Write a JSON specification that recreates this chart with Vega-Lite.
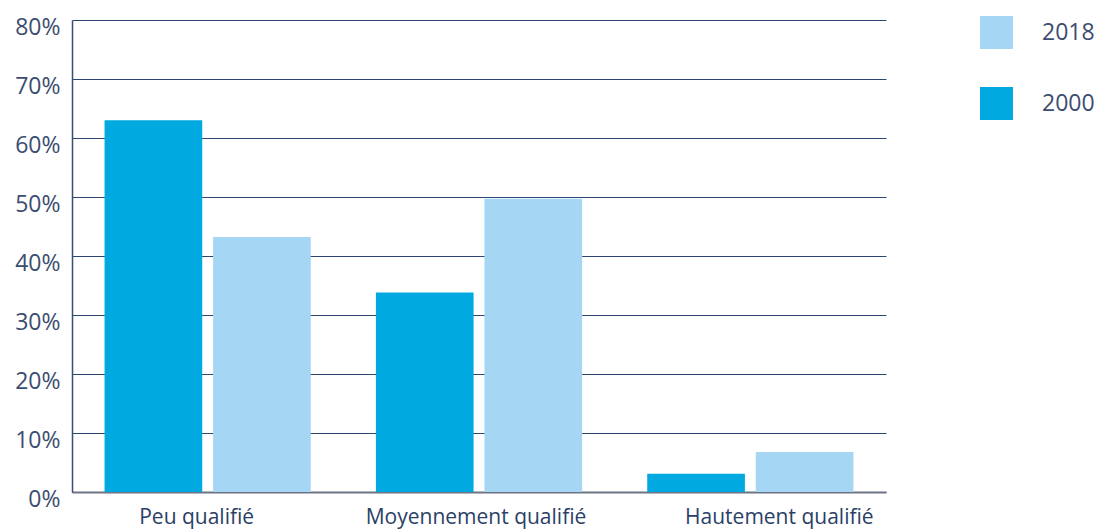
{
  "$schema": "https://vega.github.io/schema/vega-lite/v6.json",
  "width": 814,
  "height": 472,
  "autosize": {"type": "none"},
  "padding": {"left": 72, "top": 20, "right": 214, "bottom": 40},
  "background": "white",
  "data": {
    "values": [
      {"niveau": "Peu qualifié", "annee": "2000", "part": 0.63},
      {"niveau": "Peu qualifié", "annee": "2018", "part": 0.432},
      {"niveau": "Moyennement qualifié", "annee": "2000", "part": 0.338},
      {"niveau": "Moyennement qualifié", "annee": "2018", "part": 0.497},
      {"niveau": "Hautement qualifié", "annee": "2000", "part": 0.031},
      {"niveau": "Hautement qualifié", "annee": "2018", "part": 0.068}
    ]
  },
  "mark": {"type": "bar"},
  "encoding": {
    "x": {
      "field": "niveau",
      "type": "nominal",
      "sort": ["Peu qualifié", "Moyennement qualifié", "Hautement qualifié"],
      "scale": {"paddingInner": 0.24, "paddingOuter": 0.12},
      "axis": {
        "title": null,
        "labelAngle": 0,
        "labelLimit": 0,
        "labelFont": "Open Sans",
        "labelFontSize": 21,
        "labelColor": "#2b3f66",
        "labelPadding": 14,
        "labelOffset": {
          "condition": [
            {"test": "datum.value === 'Hautement qualifié'", "value": 29},
            {"test": "datum.value === 'Peu qualifié'", "value": -11}
          ],
          "value": -3
        },
        "ticks": false,
        "domainColor": "#6d7382",
        "domainWidth": 2,
        "grid": false
      }
    },
    "xOffset": {
      "field": "annee",
      "type": "nominal",
      "sort": ["2000", "2018"],
      "scale": {"paddingInner": 0.1, "paddingOuter": 0}
    },
    "y": {
      "field": "part",
      "type": "quantitative",
      "scale": {"domain": [0, 0.8]},
      "axis": {
        "title": null,
        "format": ".0%",
        "values": [0, 0.1, 0.2, 0.3, 0.4, 0.5, 0.6, 0.7, 0.8],
        "labelFont": "Open Sans",
        "labelFontSize": 23,
        "labelColor": "#3b4d70",
        "labelPadding": 12,
        "labelOffset": 7,
        "ticks": false,
        "domainColor": "#3b4d70",
        "domainWidth": 1.5,
        "grid": true,
        "gridColor": "#2e4676",
        "gridWidth": 1.2
      }
    },
    "color": {
      "field": "annee",
      "type": "nominal",
      "scale": {"domain": ["2018", "2000"], "range": ["#a5d6f3", "#00a9e0"]},
      "legend": {
        "title": null,
        "orient": "none",
        "legendX": 908,
        "legendY": -4,
        "symbolType": "square",
        "symbolSize": 1089,
        "symbolStrokeWidth": 0,
        "labelFont": "Open Sans",
        "labelFontSize": 23,
        "labelColor": "#3b4d70",
        "labelOffset": 29,
        "rowPadding": 38
      }
    }
  },
  "config": {"view": {"stroke": null}}
}
